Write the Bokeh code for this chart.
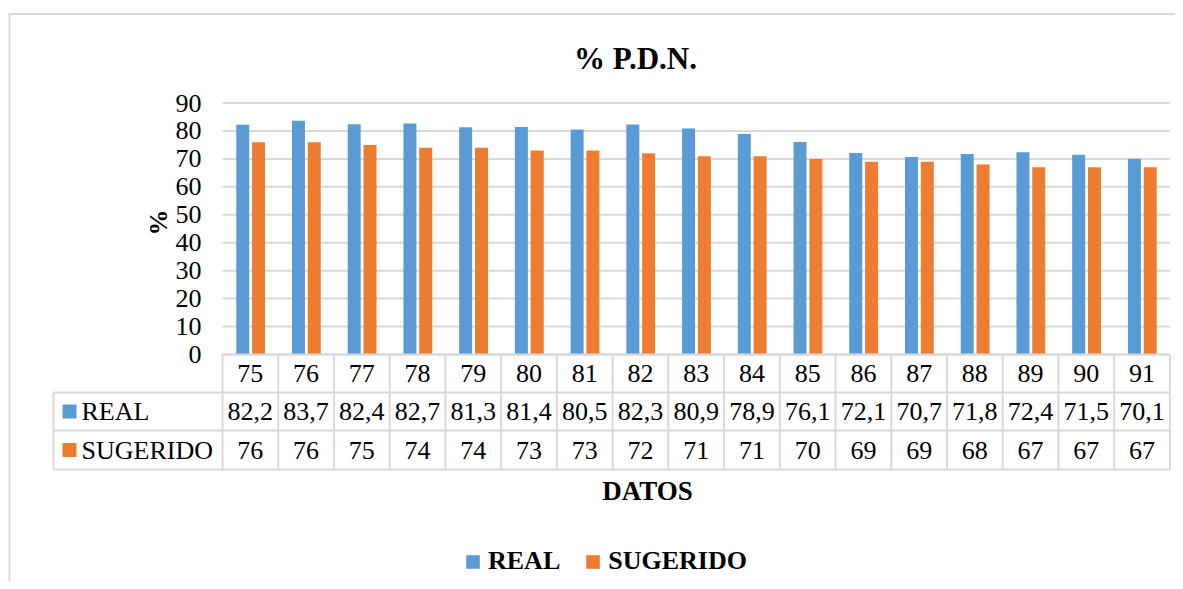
import math
from bokeh.plotting import figure
from bokeh.models import Range1d, LinearAxis, FixedTicker, ColumnDataSource, Legend, LegendItem
from bokeh.core.properties import value
from bokeh.embed import file_html
from bokeh.resources import INLINE

# ---------------- data ----------------
categories = ["75", "76", "77", "78", "79", "80", "81", "82", "83",
              "84", "85", "86", "87", "88", "89", "90", "91"]
real = [82.2, 83.7, 82.4, 82.7, 81.3, 81.4, 80.5, 82.3, 80.9,
        78.9, 76.1, 72.1, 70.7, 71.8, 72.4, 71.5, 70.1]
sugerido = [76, 76, 75, 74, 74, 73, 73, 72, 71, 71, 70, 69, 69, 68, 67, 67, 67]
series_names = ["REAL", "SUGERIDO"]
series_colors = ["#5B9BD5", "#ED7D31"]
y_ticks = [0, 10, 20, 30, 40, 50, 60, 70, 80, 90]
title_text = "% P.D.N."
x_title = "DATOS"
y_title = "%"

# ---------------- layout helpers (image pixels -> data) ----------------
X0, XU = 222.0, 55.73   # image px of first category edge, px per category
Y0, YU = 354.0, 2.794   # image px of value 0, px per value unit
def fx(px):
    return (px - X0) / XU
def fy(py):
    return (Y0 - py) / YU

FONT = value("Liberation Serif")
GRID = "#D9D9D9"
n = len(categories)
W, H = 1175, 581

p = figure(width=W, height=H,
           x_range=Range1d(fx(0), fx(W)), y_range=Range1d(fy(H), fy(0)),
           x_axis_type=None, y_axis_type=None,
           output_backend="svg", toolbar_location=None,
           min_border_left=0, min_border_right=0, min_border_bottom=0, min_border_top=0)
p.outline_line_color = None
p.background_fill_color = "white"
p.border_fill_color = "white"

# outer chart border (left & top)
p.segment(x0=[fx(9), fx(8)], y0=[fy(H), fy(13.5)], x1=[fx(9), fx(W)], y1=[fy(13.5), fy(13.5)],
          line_color=GRID, line_width=2)

# gridlines
p.segment(x0=[0] * len(y_ticks), x1=[n] * len(y_ticks), y0=y_ticks, y1=y_ticks,
          line_color=GRID, line_width=2)

# bars
centers = [i + 0.5 for i in range(n)]
src = ColumnDataSource(dict(
    xr=[c - 0.137 for c in centers], xs=[c + 0.147 for c in centers],
    real=real, sug=sugerido))
r1 = p.vbar(x="xr", top="real", bottom=0, width=0.233, source=src,
            fill_color=series_colors[0], line_color=None)
r2 = p.vbar(x="xs", top="sug", bottom=0, width=0.233, source=src,
            fill_color=series_colors[1], line_color=None)

# y axis (fixed inside frame)
yaxis = LinearAxis(fixed_location=fx(201), ticker=FixedTicker(ticks=y_ticks),
                   axis_line_color=None, major_tick_line_color=None,
                   minor_tick_line_color=None, major_tick_in=0, major_tick_out=0,
                   major_label_standoff=0,
                   major_label_text_font="Liberation Serif",
                   major_label_text_font_size="26px",
                   major_label_text_color="black")
p.add_layout(yaxis, "left")

# ---------------- data table ----------------
row_edges = [354, 392, 430, 469]
row_mid = [(row_edges[i] + row_edges[i + 1]) / 2 for i in range(3)]
label_left = fx(53)
hx0 = [0, label_left, label_left, label_left]
hx1 = [n] * 4
hy = [fy(r) for r in row_edges]
p.segment(x0=hx0, x1=hx1, y0=hy, y1=hy, line_color=GRID, line_width=2)
vx = list(range(n + 1)) + [label_left]
vy0 = [fy(354)] * (n + 1) + [fy(392)]
vy1 = [fy(469)] * (n + 2)
p.segment(x0=vx, x1=vx, y0=vy0, y1=vy1, line_color=GRID, line_width=2)

def fmt(v):
    return str(int(v)) if float(v).is_integer() else str(v).replace(".", ",")

for row, vals in enumerate([categories, [fmt(v) for v in real], [fmt(v) for v in sugerido]]):
    p.text(x=centers, y=[fy(row_mid[row])] * n, text=vals,
           text_font=FONT, text_font_size="26px", text_color="black",
           text_align="center", text_baseline="middle")

# row labels with colour keys
p.scatter(x=[fx(69), fx(69)], y=[fy(row_mid[1]), fy(row_mid[2])], marker="square",
          size=14, fill_color=series_colors, line_color=None)
p.text(x=[fx(81), fx(81)], y=[fy(row_mid[1]), fy(row_mid[2])], text=series_names,
       text_font=FONT, text_font_size="26px", text_color="black",
       text_align="left", text_baseline="middle")

# ---------------- titles ----------------
p.text(x=[fx(635)], y=[fy(58)], text=[title_text], text_font=FONT,
       text_font_style="bold", text_font_size="31px", text_color="black",
       text_align="center", text_baseline="middle")
p.text(x=[fx(647)], y=[fy(490)], text=[x_title], text_font=FONT,
       text_font_style="bold", text_font_size="27px", text_color="black",
       text_align="center", text_baseline="middle")
p.text(x=[fx(158)], y=[fy(222)], text=[y_title], text_font=FONT, angle=math.pi / 2,
       text_font_style="bold", text_font_size="26px", text_color="black",
       text_align="center", text_baseline="middle")

# ---------------- legend ----------------
legend = Legend(items=[LegendItem(label=series_names[0], renderers=[r1]),
                       LegendItem(label=series_names[1], renderers=[r2])],
                orientation="horizontal", location=(464, 5),
                padding=0, margin=0, spacing=24,
                glyph_width=17, glyph_height=17, label_standoff=7,
                label_text_font="Liberation Serif", label_text_font_style="bold",
                label_text_font_size="26px", label_text_color="black",
                border_line_color=None, background_fill_alpha=0)
p.add_layout(legend)

open("out.html", "w").write(file_html(p, INLINE))
